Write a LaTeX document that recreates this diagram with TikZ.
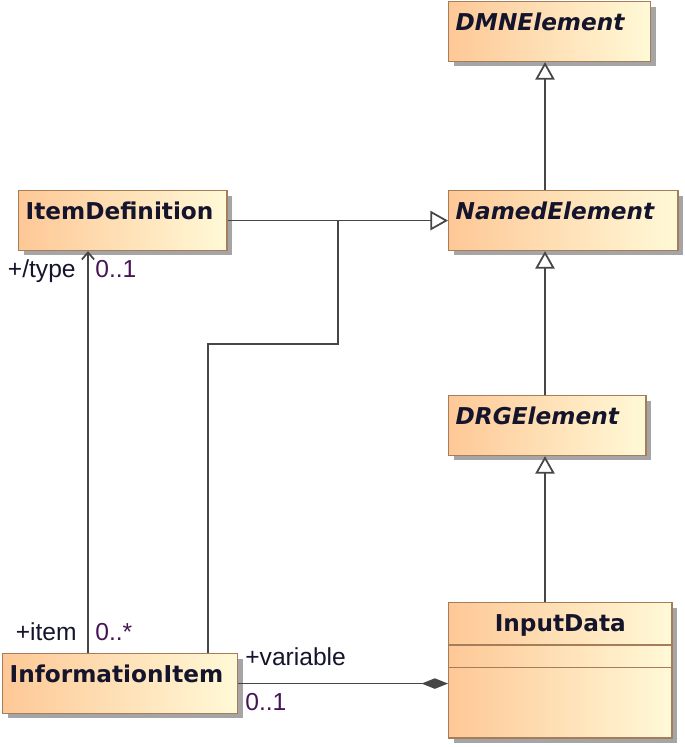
\documentclass[tikz,border=0pt]{standalone}
\usepackage{fontspec}
\usepackage{xcolor}
\newfontfamily\umlfont{DejaVu Sans}
\newfontfamily\tagfont{Liberation Sans}
\definecolor{umlorange}{RGB}{254,200,150}
\definecolor{umlcream}{RGB}{255,249,215}
\definecolor{umlborder}{RGB}{165,125,90}
\definecolor{umlline}{RGB}{70,70,70}
\definecolor{umltext}{RGB}{20,20,45}
\definecolor{umlmult}{RGB}{70,20,85}
\definecolor{umlshadow}{RGB}{165,165,165}
\usetikzlibrary{arrows.meta, shadows}

\begin{document}
\begin{tikzpicture}[x=0.02cm, y=-0.02cm,
    cls/.style={draw=umlborder, line width=0.8pt, left color=umlorange, right color=umlcream,
                drop shadow={shadow xshift=2.8pt, shadow yshift=-2.8pt, fill=umlshadow, opacity=1},
                anchor=north west, inner xsep=4pt, inner ysep=0pt, align=left,
                text height=16.4pt, text depth=17.6pt, text=umltext,
                font=\umlfont\bfseries\fontsize{13.2}{15}\selectfont},
    abstr/.style={cls, font=\umlfont\bfseries\itshape\fontsize{13.2}{15}\selectfont},
    role/.style={font=\tagfont\fontsize{14}{16}\selectfont, text=umltext, inner sep=0pt},
    mult/.style={role, text=umlmult},
    link/.style={draw=umlline, line width=1pt},
    gen/.style={link, -{Triangle[open, length=10pt, width=11pt, fill=white]}},
    assoc/.style={link, -{Straight Barb[length=4pt, width=7pt]}},
    comp/.style={link, {Diamond[length=15pt, width=6pt]}-},
]
\useasboundingbox (0,0) rectangle (685,747);

% ===== classes =====
\node[abstr, text width=107pt]   (dmn)     at (448,1)   {DMNElement};
\node[abstr, text width=122.4pt] (named)   at (448,190) {NamedElement};
\node[cls, text width=110.5pt]   (itemdef) at (18,190)  {ItemDefinition};
\node[abstr, text width=104.2pt] (drg)     at (448,395) {DRGElement};
\node[cls, text width=119pt, align=center, text depth=60.7pt] (input) at (448,602) {InputData};
\node[cls, text width=125.8pt]   (info)    at (2,653)   {InformationItem};

% compartments of InputData
\draw[draw=umlborder, line width=0.8pt] ([yshift=-24.4pt]input.north west) -- ([yshift=-24.4pt]input.north east);
\draw[draw=umlborder, line width=0.8pt] ([yshift=-37.4pt]input.north west) -- ([yshift=-37.4pt]input.north east);

% ===== generalizations =====
\draw[gen] (named.north -| 545,0) -- (dmn.south -| 545,0);
\draw[gen] (drg.north -| 545,0) -- (named.south -| 545,0);
\draw[gen] (input.north -| 545,0) -- (drg.south -| 545,0);
\draw[gen] (itemdef.east) -- (named.west);
\coordinate (join) at (itemdef.east -| 338,0);
\draw[link] (info.north -| 208,0) |- (338,344) -- (join);

% ===== associations =====
\draw[assoc] (info.north -| 88,0) -- (itemdef.south -| 88,0);
\draw[comp] (input.west |- info.east) -- (info.east);

% end labels
\node[role, anchor=base east] (ltype) at (76,277)  {+/type};
\node[mult, anchor=base west] (mtype) at (95,277)  {0..1};
\node[role, anchor=base east] (litem) at (77,640)  {+item};
\node[mult, anchor=base west] (mitem) at (95,640)  {0..*};
\node[role, anchor=base west] (lvar)  at (245,665) {+variable};
\node[mult, anchor=base west] (mvar)  at (245,710) {0..1};

\end{tikzpicture}
\end{document}
